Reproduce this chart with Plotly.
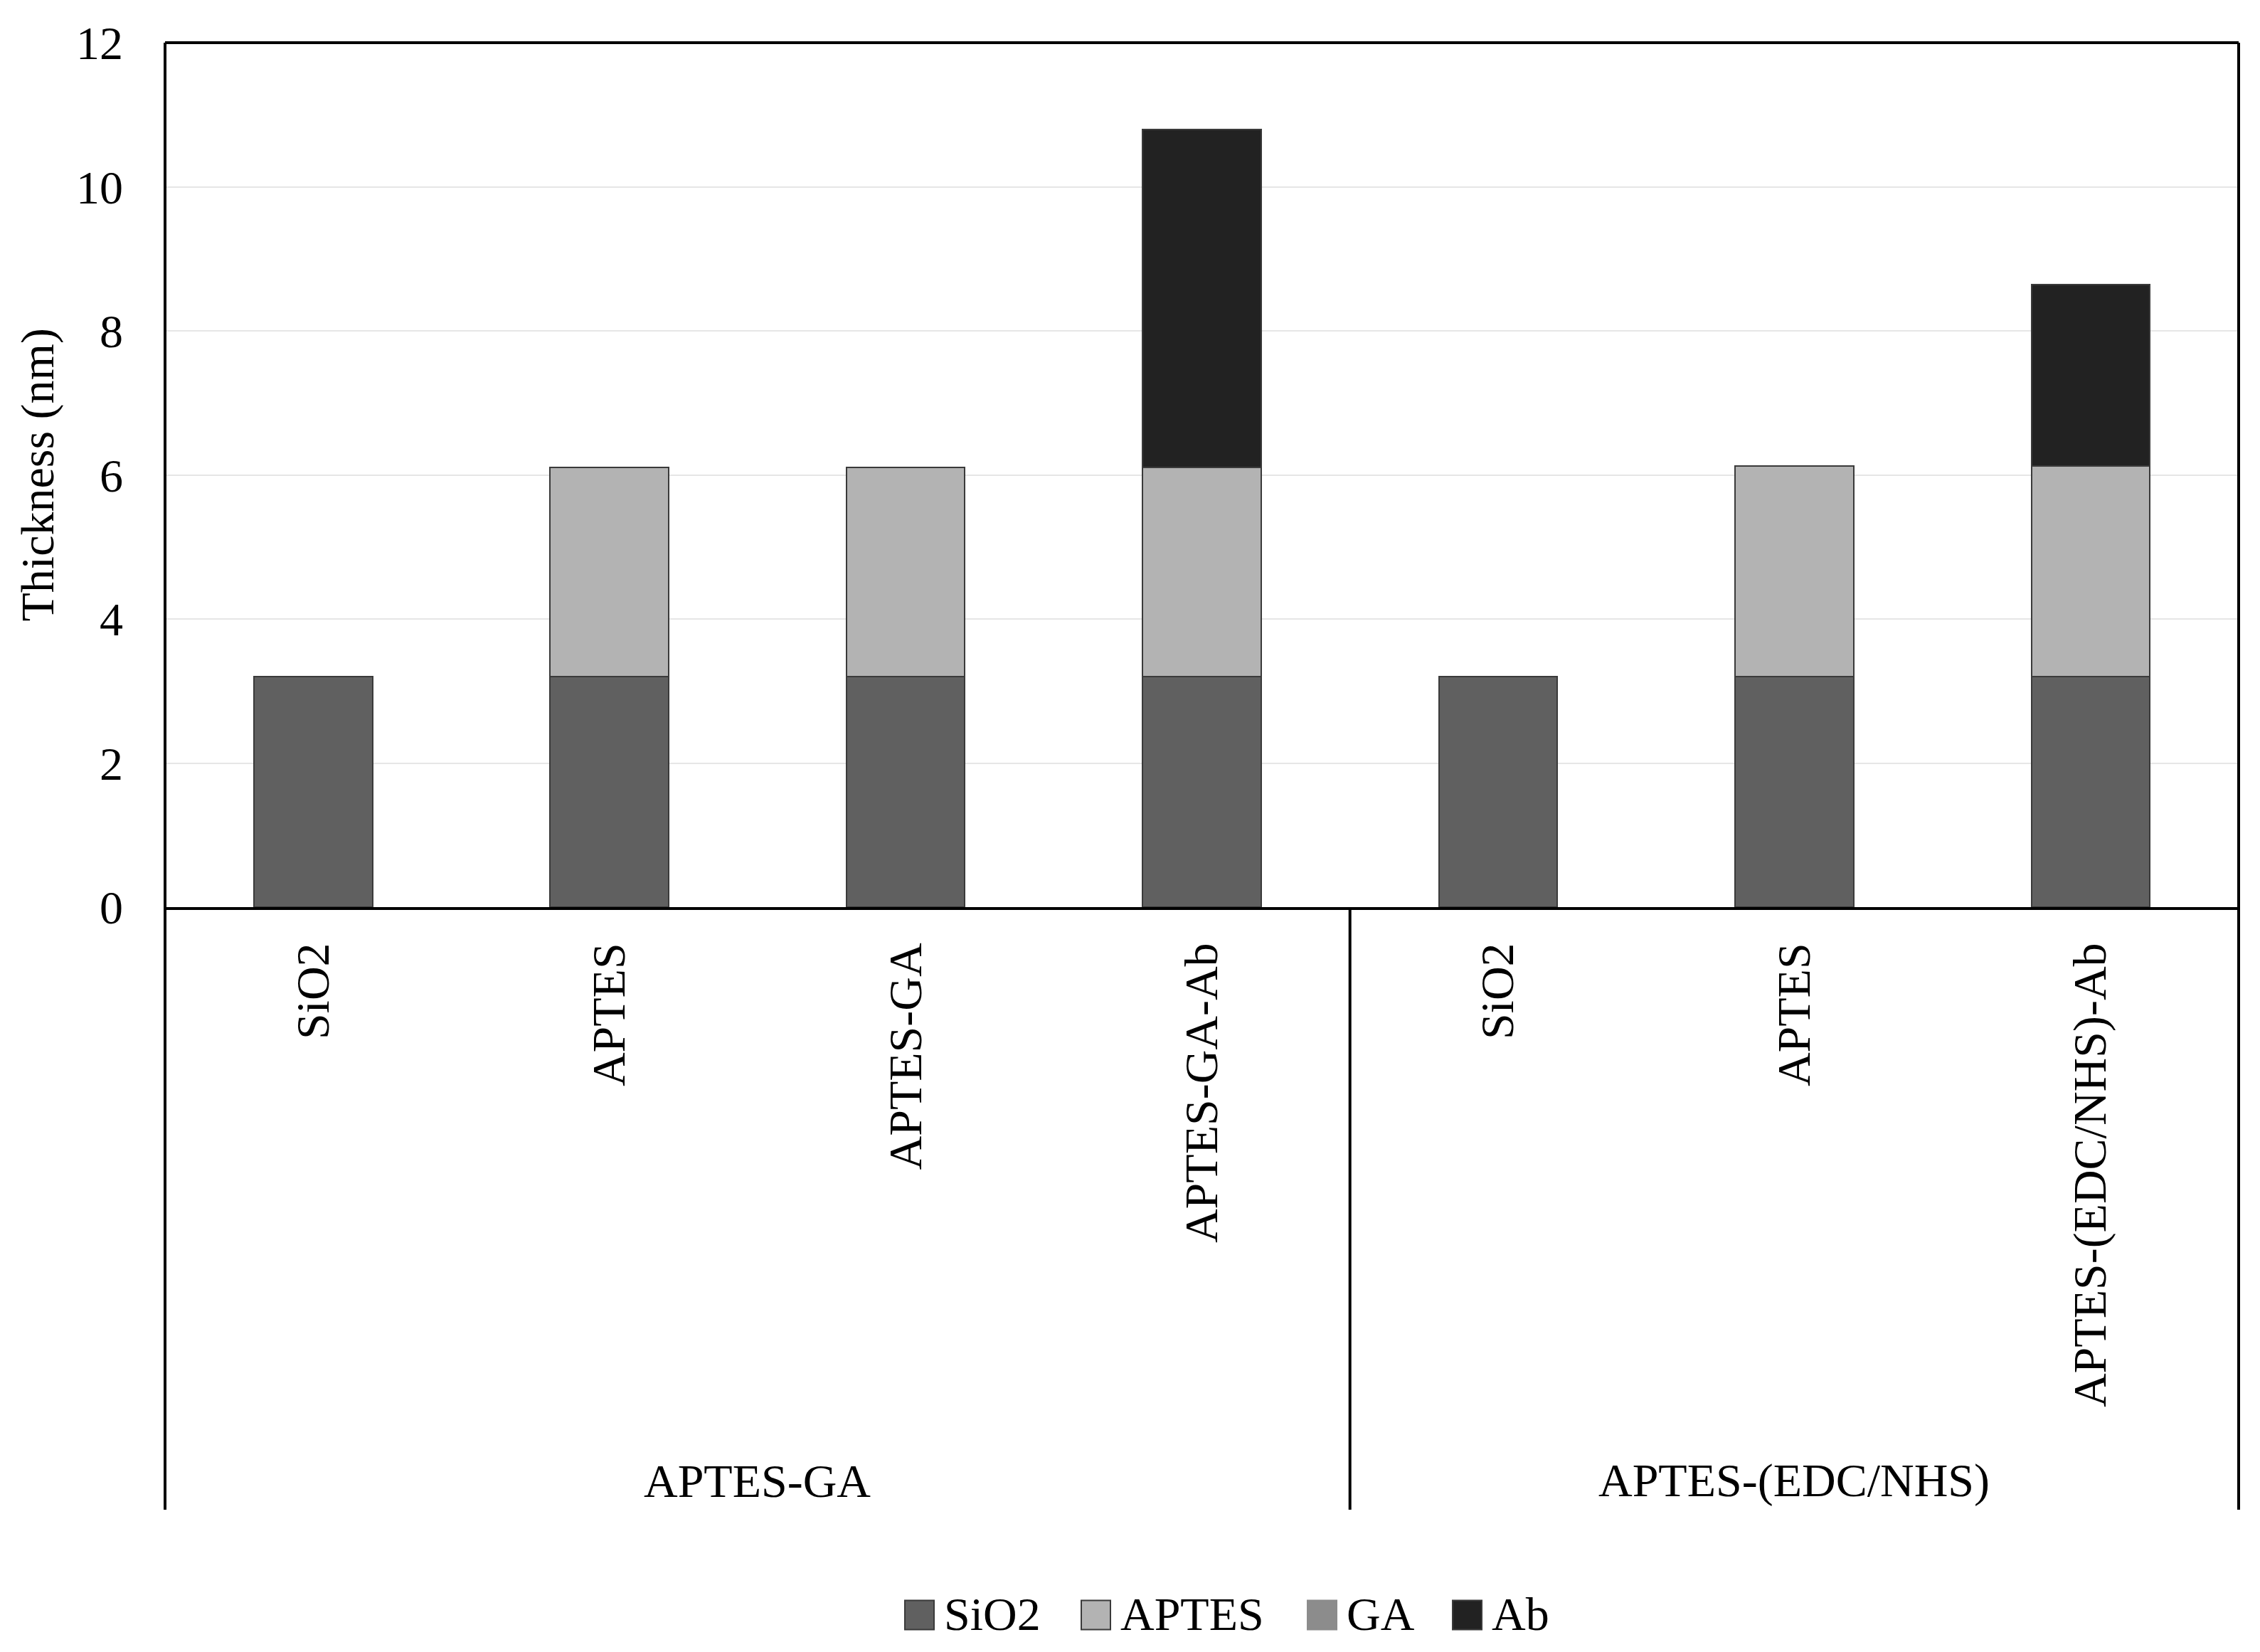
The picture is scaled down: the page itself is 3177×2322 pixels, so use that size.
import plotly.graph_objects as go

# ---------------- data ----------------
groups = ["APTES-GA"] * 4 + ["APTES-(EDC/NHS)"] * 3
samples = ["SiO2", "APTES", "APTES-GA", "APTES-GA-Ab",
           "SiO2", "APTES", "APTES-(EDC/NHS)-Ab"]
sio2 = [3.2, 3.2, 3.2, 3.2, 3.2, 3.2, 3.2]
aptes = [0, 2.9, 2.9, 2.9, 0, 2.92, 2.92]
ga = [0, 0, 0, 0, 0, 0, 0]
ab = [0, 0, 0, 4.7, 0, 0, 2.52]
series_names = ["SiO2", "APTES", "GA", "Ab"]
y_ticks = [0, 2, 4, 6, 8, 10, 12]

# ---------------- style ----------------
OFF = 8                      # default body margin of the page
SW, SH = 3177, 2322          # screen size
W, H = SW - 2 * OFF, SH - 2 * OFF
PLOT_L, PLOT_R, PLOT_T, PLOT_B = 232, 3147, 60, 1275   # screen px
L, T = PLOT_L - OFF, PLOT_T - OFF
R = (SW - OFF) - PLOT_R
B = (SH - OFF) - PLOT_B
PW, PH = PLOT_R - PLOT_L, PLOT_B - PLOT_T
FONT = "Liberation Serif"
FS = 66
colors = ["#606060", "#b3b3b3", "#8c8c8c", "#222222"]
outline = "#3a3a3a"
FRAME_W = 4


def px2x(px):
    return (px - PLOT_L) / PW


def py2y(py):
    return (PLOT_B - py) / PH


keys = [f"{g}|{s}" for g, s in zip(groups, samples)]
series_vals = [sio2, aptes, ga, ab]

fig = go.Figure()
for name, vals, col in zip(series_names, series_vals, colors):
    fig.add_trace(go.Bar(
        x=keys, y=vals, name=name, showlegend=False,
        marker=dict(color=col, line=dict(color=outline, width=2)),
    ))

fig.update_layout(
    width=W, height=H, barmode="stack", bargap=0.6,
    margin=dict(l=L, r=R, t=T, b=B, autoexpand=False),
    plot_bgcolor="white", paper_bgcolor="white",
    font=dict(family=FONT, size=FS, color="black"),
)
fig.update_xaxes(
    type="category", range=[-0.5, len(keys) - 0.5],
    tickmode="array", tickvals=keys, ticktext=samples,
    tickangle=-90, ticks="", ticklabelstandoff=20,
    tickfont=dict(family=FONT, size=FS, color="black"),
    showline=True, linecolor="black", linewidth=FRAME_W, showgrid=False,
)
fig.update_yaxes(
    range=[0, 12], tickmode="array", tickvals=y_ticks,
    ticks="", ticklabelstandoff=58,
    tickfont=dict(family=FONT, size=FS, color="black"),
    showgrid=True, gridcolor="#e6e6e6", gridwidth=2,
    zeroline=False, showline=False,
)

ybot = py2y(2122)
shapes = [
    dict(type="line", xref="paper", yref="paper", x0=0, x1=0, y0=ybot, y1=1,
         line=dict(color="black", width=FRAME_W)),
    dict(type="line", xref="paper", yref="paper", x0=1, x1=1, y0=ybot, y1=1,
         line=dict(color="black", width=FRAME_W)),
    dict(type="line", xref="paper", yref="paper", x0=0, x1=1, y0=1, y1=1,
         line=dict(color="black", width=FRAME_W)),
]
n1 = groups.count(groups[0])
shapes.append(dict(type="line", xref="x", yref="paper", x0=n1 - 0.5, x1=n1 - 0.5,
                   y0=ybot, y1=0, line=dict(color="black", width=FRAME_W)))

annotations = [
    dict(text="Thickness (nm)", xref="paper", yref="paper", x=px2x(52), y=0.5,
         textangle=-90, showarrow=False, xanchor="center", yanchor="middle",
         font=dict(family=FONT, size=FS, color="black")),
]
# group labels
uniq = []
for g in groups:
    if g not in uniq:
        uniq.append(g)
for g in uniq:
    idx = [i for i, gg in enumerate(groups) if gg == g]
    annotations.append(dict(text=g, xref="x", yref="paper",
                            x=sum(idx) / len(idx), y=py2y(2081),
                            showarrow=False, xanchor="center", yanchor="middle",
                            font=dict(family=FONT, size=FS, color="black")))

# manual legend (large square symbols)
leg_left = [1272, 1520, 1838, 2042]
sq = 41
ly = 2270
leg_lines = [outline, outline, colors[2], outline]
for name, col, lx, lc in zip(series_names, colors, leg_left, leg_lines):
    shapes.append(dict(type="rect", xref="paper", yref="paper",
                       x0=px2x(lx), x1=px2x(lx + sq),
                       y0=py2y(ly + sq / 2), y1=py2y(ly - sq / 2),
                       fillcolor=col, line=dict(color=lc, width=2)))
    annotations.append(dict(text=name, xref="paper", yref="paper",
                            x=px2x(lx + sq + 12), y=py2y(ly - 2),
                            showarrow=False, xanchor="left", yanchor="middle",
                            font=dict(family=FONT, size=FS, color="black")))

fig.update_layout(shapes=shapes, annotations=annotations)
fig.write_html("out.html")
